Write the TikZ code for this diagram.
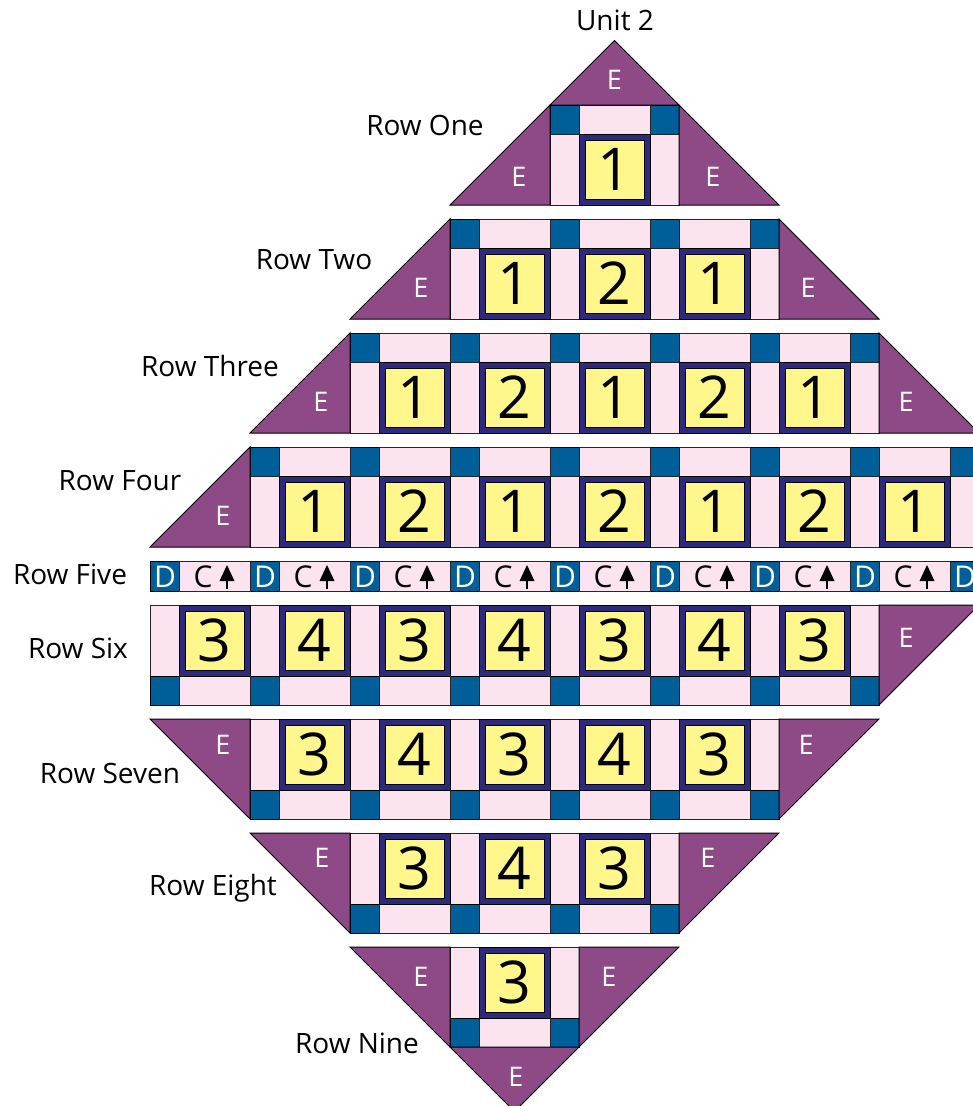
\documentclass[tikz,border=0pt]{standalone}
\usepackage{fontspec}
\setmainfont{Open Sans}
\definecolor{qpurple}{RGB}{142,74,134}
\definecolor{qblue}{RGB}{0,94,153}
\definecolor{qpink}{RGB}{251,228,239}
\definecolor{qyellow}{RGB}{255,246,140}
\definecolor{qnavy}{RGB}{46,41,120}
\tikzset{
  post/.style={fill=qblue,draw=black,line width=1pt},
  sash/.style={fill=qpink,draw=black!85,line width=1pt},
  etri/.style={fill=qpurple,draw=black,line width=1pt,line join=miter},
  frame/.style={fill=qnavy,draw=black,line width=1pt},
  inner/.style={fill=qyellow,draw=black,line width=1pt},
  digit/.style={inner sep=0pt,font=\fontsize{59}{61}\selectfont},
  elbl/.style={inner sep=0pt,text=white,font=\fontsize{27}{29}\selectfont},
  dlbl/.style={inner sep=0pt,text=white,font=\fontsize{30}{32}\selectfont},
  clbl/.style={inner sep=0pt,text=black,font=\fontsize{30}{32}\selectfont},
  rowlbl/.style={inner sep=0pt,text=black,font=\fontsize{28}{30}\selectfont},
}
\newcommand\qblk[4]{%
  \draw[frame] (#1,#2) rectangle ++(71,71);
  \draw[inner] (#1+6,#2+6) rectangle ++(59,59);
  \node[digit] (#4) at (#1+35.5,#2+35.5) {#3};
}
% top-type row: #1 top y, #2 first post index, #3 last post index, #4 digits
\newcommand\qTopRow[4]{%
  \foreach \i in {#2,...,#3} {
    \draw[post] (150+100*\i,#1) rectangle ++(29,29);
    \draw[sash] (150+100*\i,#1+29) rectangle ++(29,71);
  }
  \foreach \d [count=\c from #2] in {#4} {
    \draw[sash] (179+100*\c,#1) rectangle ++(71,29);
    \qblk{179+100*\c}{#1+29}{\d}{blk-#1-\c}
  }
}
\newcommand\qBotRow[4]{%
  \foreach \i in {#2,...,#3} {
    \draw[sash] (150+100*\i,#1) rectangle ++(29,71);
    \draw[post] (150+100*\i,#1+71) rectangle ++(29,29);
  }
  \foreach \d [count=\c from #2] in {#4} {
    \draw[sash] (179+100*\c,#1+71) rectangle ++(71,29);
    \qblk{179+100*\c}{#1}{\d}{blk-#1-\c}
  }
}
\begin{document}
\begin{tikzpicture}[x=1pt,y=-1pt]
\useasboundingbox (0,0) rectangle (973,1106);
\fill[white] (0,0) rectangle (973,1106);
\clip (0,0) rectangle (973,1106);

% Row One
\qTopRow{105}{4}{5}{1}
\filldraw[etri] (550,105) -- (679,105) -- (614.5,40.5) -- cycle;
\filldraw[etri] (450,205) -- (550,105) -- (550,205) -- cycle;
\filldraw[etri] (679,105) -- (679,205) -- (779,205) -- cycle;
\node[elbl] (e1t) at (614.5,80) {E};
\node[elbl] (e1l) at (519,177) {E};
\node[elbl] (e1r) at (713,177) {E};

% Row Two
\qTopRow{219}{3}{6}{1,2,1}
\filldraw[etri] (350,319) -- (450,219) -- (450,319) -- cycle;
\filldraw[etri] (779,219) -- (779,319) -- (879,319) -- cycle;
\node[elbl] (e2l) at (421,288) {E};
\node[elbl] (e2r) at (808,288) {E};

% Row Three
\qTopRow{333}{2}{7}{1,2,1,2,1}
\filldraw[etri] (250,433) -- (350,333) -- (350,433) -- cycle;
\filldraw[etri] (879,333) -- (879,433) -- (979,433) -- cycle;
\node[elbl] (e3l) at (321,402) {E};
\node[elbl] (e3r) at (906,402) {E};

% Row Four
\qTopRow{447}{1}{8}{1,2,1,2,1,2,1}
\filldraw[etri] (150,547) -- (250,447) -- (250,547) -- cycle;
\node[elbl] (e4l) at (223,516) {E};

% Row Five
\foreach \i in {0,...,8} {
  \draw[post] (150+100*\i,561) rectangle ++(29,30);
  \node[dlbl] (d\i) at (165+100*\i,576.5) {D};
}
\foreach \i in {0,...,7} {
  \draw[sash] (179+100*\i,561) rectangle ++(71,30);
  \node[clbl] (c\i) at (203+100*\i,576.5) {C};
  \fill[black] (219.5+100*\i,581) -- (234.5+100*\i,581) -- (227+100*\i,565) -- cycle;
  \draw[black,line width=2.6pt] (227+100*\i,578) -- (227+100*\i,589);
}

% Row Six
\qBotRow{605}{0}{7}{3,4,3,4,3,4,3}
\filldraw[etri] (879,605) -- (879,705) -- (979,605) -- cycle;
\node[elbl] (e6r) at (906,638) {E};

% Row Seven
\qBotRow{719}{1}{6}{3,4,3,4,3}
\filldraw[etri] (150,719) -- (250,719) -- (250,819) -- cycle;
\filldraw[etri] (779,719) -- (879,719) -- (779,819) -- cycle;
\node[elbl] (e7l) at (223,745) {E};
\node[elbl] (e7r) at (806,745) {E};

% Row Eight
\qBotRow{833}{2}{5}{3,4,3}
\filldraw[etri] (250,833) -- (350,833) -- (350,933) -- cycle;
\filldraw[etri] (679,833) -- (779,833) -- (679,933) -- cycle;
\node[elbl] (e8l) at (322,858) {E};
\node[elbl] (e8r) at (708,858) {E};

% Row Nine
\qBotRow{947}{3}{4}{3}
\filldraw[etri] (350,947) -- (450,947) -- (450,1047) -- cycle;
\filldraw[etri] (579,947) -- (679,947) -- (579,1047) -- cycle;
\filldraw[etri] (450,1047) -- (579,1047) -- (514.5,1111.5) -- cycle;
\node[elbl] (e9l) at (421,977) {E};
\node[elbl] (e9r) at (609,977) {E};
\node[elbl] (e9b) at (516,1077) {E};

% labels
\node[rowlbl] (unit) at (615,20) {Unit 2};
\node[rowlbl] (r1) at (425,125) {Row One};
\node[rowlbl] (r2) at (314,260) {Row Two};
\node[rowlbl] (r3) at (210,366) {Row Three};
\node[rowlbl] (r4) at (120,481) {Row Four};
\node[rowlbl] (r5) at (70,574) {Row Five};
\node[rowlbl] (r6) at (78,648) {Row Six};
\node[rowlbl] (r7) at (110,773) {Row Seven};
\node[rowlbl] (r8) at (213,888) {Row Eight};
\node[rowlbl] (r9) at (357,1043) {Row Nine};
\end{tikzpicture}
\end{document}
